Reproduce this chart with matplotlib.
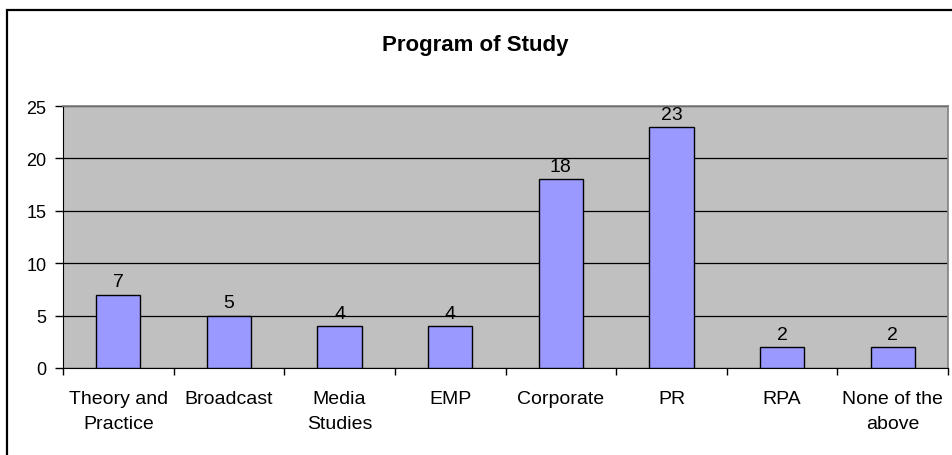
import matplotlib
matplotlib.use("Agg")
import matplotlib.pyplot as plt
from matplotlib.patches import Rectangle
import numpy as np

plt.rcParams['font.family'] = ['Liberation Sans', 'DejaVu Sans']

categories = ["Theory and\nPractice", "Broadcast", "Media\nStudies", "EMP",
              "Corporate", "PR", "RPA", "None of the\nabove"]
values = [7, 5, 4, 4, 18, 23, 2, 2]
yticks = [0, 5, 10, 15, 20, 25]
title = "Program of Study"

W, H = 952, 456
fig = plt.figure(figsize=(W / 100, H / 100), dpi=100)
fig.patch.set_facecolor("white")

# outer chart border
fig.patches.append(Rectangle((7 / W, -0.05), 1.05, 1 - 11 / H + 0.05,
                             transform=fig.transFigure, fill=False,
                             edgecolor="black", linewidth=1.6, clip_on=False))

ax = fig.add_axes([63 / W, 1 - 369 / H, (948 - 63) / W, (369 - 107) / H])
ax.set_facecolor("#C0C0C0")

x = np.arange(len(categories))
bars = ax.bar(x, values, width=0.4, color="#9999FF", edgecolor="black",
              linewidth=1.0, zorder=3)
for xi, v in zip(x, values):
    ax.annotate(str(v), (xi, v), xytext=(0, 3), textcoords="offset points",
                ha="center", va="bottom", fontsize=14, zorder=4)

ax.set_xlim(-0.5, len(categories) - 0.5)
ax.set_ylim(0, 25)
ax.set_yticks(yticks)
ax.set_yticklabels([str(t) for t in yticks], fontsize=13)
ax.yaxis.grid(True, color="black", linewidth=0.9, zorder=1)
ax.set_axisbelow(True)

ax.set_xticks(x)
ax.set_xticklabels(categories, fontsize=14, linespacing=1.6)
ax.tick_params(axis="x", length=0, pad=16)
ax.set_xticks(np.arange(len(categories) + 1) - 0.5, minor=True)
ax.tick_params(axis="x", which="minor", length=5, width=1, color="black")
ax.tick_params(axis="y", length=6, width=1, color="black", pad=6)

for side in ["top", "right"]:
    ax.spines[side].set_color("#808080")
    ax.spines[side].set_linewidth(1.2)
ax.spines["left"].set_color("black")
ax.spines["bottom"].set_color("black")

fig.text(475 / W, 1 - 45 / H, title, ha="center", va="center",
         fontsize=16, fontweight="bold")

fig.savefig("out.png", dpi=100)
